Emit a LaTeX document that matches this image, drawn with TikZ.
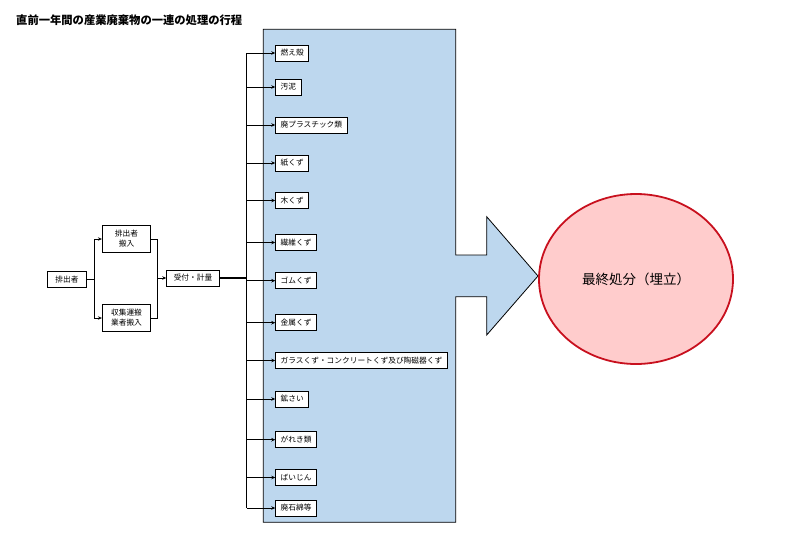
\documentclass[tikz,border=0pt]{standalone}
\usepackage{fontspec}
\setmainfont{Noto Sans CJK JP}
\usetikzlibrary{arrows.meta}
\usetikzlibrary{positioning,shapes}
\definecolor{panelblue}{RGB}{189,215,238}
\definecolor{pinkfill}{RGB}{255,204,204}
\definecolor{redline}{RGB}{200,16,30}
\tikzset{
    box/.style={
        draw,
        fill=white,
        line width=0.8pt,
        inner xsep=5pt,
        inner ysep=0pt,
        minimum height=16,
        font=\fontsize{7.7}{10}\selectfont
    },
    item/.style={box, anchor=west},
    wire/.style={draw, line width=0.8pt},
    feed/.style={
        draw,
        line width=0.8pt,
        -{Stealth[length=4pt, width=3.5pt]}
    }
}

\begin{document}
\begin{tikzpicture}[x=1pt, y=-1pt]
    \useasboundingbox (0,0) rectangle (785,550);
    \node[anchor=west, inner sep=0pt, font=\fontsize{11.3}{13}\selectfont\bfseries] (title) at (16,20) {直前一年間の産業廃棄物の一連の処理の行程};

    % blue panel with its arrow to the right
    \draw[fill=panelblue, line width=0.8pt] (263.3,29.3) -- (455.7,29.3) -- (455.7,255) -- (486.7,255) -- (486.7,216.7) -- (538,276) -- (486.7,335) -- (486.7,296.7) -- (455.7,296.7) -- (455.7,522.3) -- (263.3,522.3) -- cycle;
    \node[ellipse, draw=redline, fill=pinkfill, line width=1.8pt, minimum width=194, minimum height=170, font=\fontsize{13.5}{16}\selectfont] (final) at (636,279) {最終処分（埋立）};

    \node[box, minimum width=39.4] (src) at (67,279.5) {排出者};
    \node[box, minimum width=48.4, minimum height=27.7, align=center] (own) at (126.5,239) {排出者\\搬入};
    \node[box, minimum width=48.4, minimum height=27.7, align=center] (carrier) at (126.5,318) {収集運搬\\業者搬入};
    \node[box, minimum width=52.6] (recv) at (193,278) {受付・計量};

    \node[item] (ash) at (275.3,53) {燃え殻};
    \node[item] (sludge) at (275.3,87) {汚泥};
    \node[item] (plastic) at (275.3,125) {廃プラスチック類};
    \node[item] (paper) at (275.3,163) {紙くず};
    \node[item] (wood) at (275.3,200.5) {木くず};
    \node[item] (fiber) at (275.3,242.5) {繊維くず};
    \node[item] (rubber) at (275.3,280.7) {ゴムくず};
    \node[item] (metal) at (275.3,322.7) {金属くず};
    \node[item] (glass) at (275.3,360.5) {ガラスくず・コンクリートくず及び陶磁器くず};
    \node[item] (slag) at (275.3,399) {鉱さい};
    \node[item] (debris) at (275.3,439.7) {がれき類};
    \node[item] (dust) at (275.3,477.5) {ばいじん};
    \node[item] (asbestos) at (275.3,508) {廃石綿等};

    \coordinate (split) at (94.3,279.5);
    \coordinate (join) at (157.7,278);
    \coordinate (bustop) at (246.7,53);
    \coordinate (busbot) at (246.7,508);

    \draw[wire] (src) -- (split);
    \draw[feed] (split) |- (own);
    \draw[feed] (split) |- (carrier);
    \draw[wire] (own) -| (join);
    \draw[wire] (carrier) -| (join);
    \draw[feed] (join) -- (recv);
    \draw[wire, line width=1.2pt] (recv) -- (recv -| bustop);

    \draw[wire] (bustop) -- (busbot);
    \draw[feed] (bustop) -- (ash);
    \draw[feed] (bustop |- sludge) -- (sludge);
    \draw[feed] (bustop |- plastic) -- (plastic);
    \draw[feed] (bustop |- paper) -- (paper);
    \draw[feed] (bustop |- wood) -- (wood);
    \draw[feed] (bustop |- fiber) -- (fiber);
    \draw[feed] (bustop |- rubber) -- (rubber);
    \draw[feed] (bustop |- metal) -- (metal);
    \draw[feed] (bustop |- glass) -- (glass);
    \draw[feed] (bustop |- slag) -- (slag);
    \draw[feed] (bustop |- debris) -- (debris);
    \draw[feed] (bustop |- dust) -- (dust);
    \draw[feed] (busbot) -- (asbestos);
\end{tikzpicture}
\end{document}
